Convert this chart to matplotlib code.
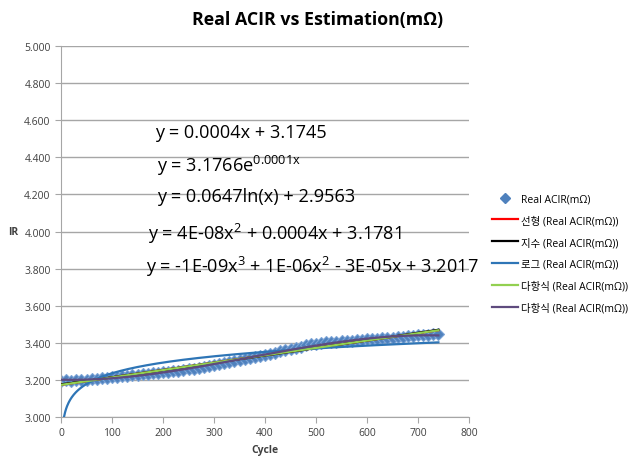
import numpy as np
import matplotlib
matplotlib.use("Agg")
import matplotlib.pyplot as plt
from matplotlib.lines import Line2D

plt.rcParams['font.family'] = ['Open Sans', 'Noto Sans CJK KR', 'DejaVu Sans']

# measured ACIR, read every 10 cycles
cycles = list(range(0, 750, 10))
acir = [3.195, 3.197, 3.196, 3.198, 3.199, 3.200, 3.203, 3.205, 3.208, 3.211,
        3.214, 3.217, 3.219, 3.222, 3.224, 3.227, 3.230, 3.232, 3.235, 3.238,
        3.241, 3.244, 3.247, 3.250, 3.253, 3.257, 3.261, 3.265, 3.270, 3.275,
        3.280, 3.285, 3.290, 3.296, 3.301, 3.306, 3.311, 3.316, 3.322, 3.328,
        3.334, 3.340, 3.347, 3.354, 3.361, 3.368, 3.374, 3.380, 3.386, 3.391,
        3.395, 3.399, 3.402, 3.404, 3.406, 3.408, 3.410, 3.412, 3.414, 3.416,
        3.418, 3.420, 3.422, 3.424, 3.426, 3.428, 3.430, 3.432, 3.435, 3.437,
        3.440, 3.442, 3.444, 3.446, 3.448]

equations = ["y = 0.0004x + 3.1745",
             r"y = 3.1766e$\mathregular{^{0.0001x}}$",
             "y = 0.0647ln(x) + 2.9563",
             r"y = 4E-08x$\mathregular{^{2}}$ + 0.0004x + 3.1781",
             r"y = -1E-09x$\mathregular{^{3}}$ + 1E-06x$\mathregular{^{2}}$ - 3E-05x + 3.2017"]
eq_pos = [(155, 133), (157, 166), (157, 197), (148, 234), (146, 267)]

legend_labels = ["Real ACIR(mΩ)", "선형 (Real ACIR(mΩ))", "지수 (Real ACIR(mΩ))",
                 "로그 (Real ACIR(mΩ))", "다항식 (Real ACIR(mΩ))", "다항식 (Real ACIR(mΩ))"]
trend_colors = ["#FF0000", "#000000", "#2E75B6", "#92D050", "#5E4B7E"]

x = np.array(cycles, dtype=float)
y = np.array(acir)

# trendlines, fitted the way Excel does it
xs = np.arange(1, 741, dtype=float)
lin = np.polyval(np.polyfit(x, y, 1), xs)
b, lna = np.polyfit(x, np.log(y), 1)
expo = np.exp(lna) * np.exp(b * xs)
m = x > 0
logc = np.polyfit(np.log(x[m]), y[m], 1)
logt = np.polyval(logc, np.log(xs))
poly2 = np.polyval(np.polyfit(x, y, 2), xs)
poly3 = np.polyval(np.polyfit(x, y, 3), xs)

fig = plt.figure(figsize=(6.33, 4.60), dpi=100)
ax = fig.add_axes([61 / 633, 42 / 460, 408 / 633, 371 / 460])

ax.plot(x, y, linestyle="none", marker="D", markersize=6, color="#4F81BD",
        markeredgecolor="#7BA3D6", markeredgewidth=0.8, zorder=2)
for yy, c in zip([lin, expo, logt, poly2, poly3], trend_colors):
    ax.plot(xs, yy, color=c, lw=1.6, zorder=3)

ax.set_xlim(0, 800)
ax.set_ylim(3.0, 5.0)
ax.set_xticks(range(0, 801, 100))
ax.set_yticks(np.arange(3.0, 5.01, 0.2))
ax.set_yticklabels([f"{v:.3f}" for v in np.arange(3.0, 5.01, 0.2)])
ax.yaxis.grid(True, color="#A6A6A6", lw=1)
ax.set_axisbelow(True)
for s in ["top", "right"]:
    ax.spines[s].set_visible(False)
for s in ["left", "bottom"]:
    ax.spines[s].set_color("#A6A6A6")
ax.tick_params(colors="#A6A6A6", labelcolor="#404040", labelsize=7.5, length=4)
ax.set_xlabel("Cycle", fontsize=7.5, fontweight="bold", color="#404040", labelpad=4)
ax.set_ylabel("IR", fontsize=7.5, fontweight="bold", color="#404040", rotation=0,
              labelpad=8, va="center")

fig.text(318 / 633, 1 - 20 / 460, "Real ACIR vs Estimation(mΩ)", ha="center", va="center",
         fontsize=12.8, fontweight="bold", color="#000000")

for t, (px, py) in zip(equations, eq_pos):
    fig.text(px / 633, 1 - py / 460, t, ha="left", va="center", fontsize=13.1,
             color="#000000")

handles = [Line2D([], [], linestyle="none", marker="D", markersize=5, color="#4F81BD")]
handles += [Line2D([], [], color=c, lw=1.6) for c in trend_colors]
fig.legend(handles, legend_labels, loc="upper left", bbox_to_anchor=(488 / 633, 1 - 190 / 460),
           frameon=False, fontsize=7.5, handlelength=2.5, handletextpad=0.3,
           labelspacing=1.05, borderaxespad=0)

fig.savefig("out.png", dpi=100)
